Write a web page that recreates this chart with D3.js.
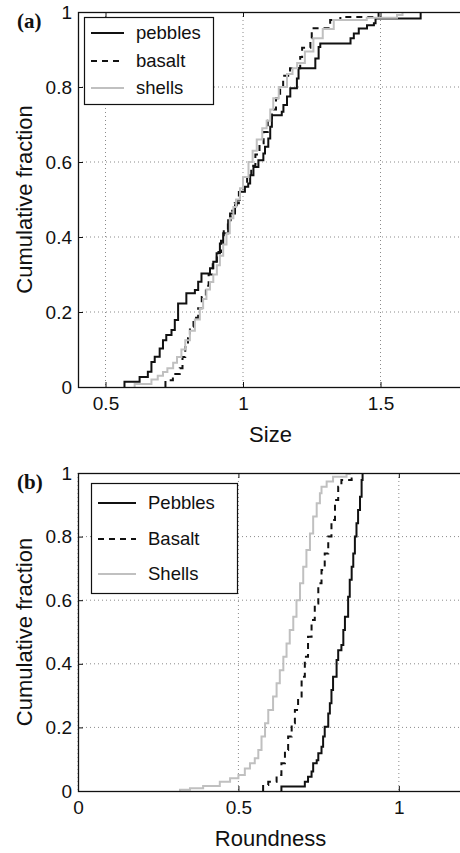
<!DOCTYPE html>
<html>
<head>
<meta charset="utf-8">
<script src="https://cdn.jsdelivr.net/npm/d3@7/dist/d3.min.js"></script>
<style>
  body { margin: 0; background: #fff; }
  svg { display: block; font-family: "Liberation Sans", Arial, sans-serif; }
  .grid line { stroke: #8a8a8a; stroke-width: 1; stroke-dasharray: 1,3; }
  .tick-label { font-size: 19px; fill: #111; }
  .axis-title { font-size: 22px; fill: #111; }
  .legend-text { font-size: 18.5px; fill: #111; }
  .panel-tag { font-family: "Liberation Serif", "Times New Roman", serif; font-weight: bold; font-size: 21px; fill: #111; }
</style>
</head>
<body>
<svg id="chart" width="460" height="853"></svg>
<script>
// (a) size distributions: step position and cumulative fraction after the step
const sizePebblesX = [0.569, 0.624, 0.654, 0.667, 0.679, 0.697, 0.709, 0.721, 0.740, 0.752, 0.764, 0.794, 0.825, 0.837, 0.849, 0.880, 0.892, 0.904, 0.916, 0.928, 0.946, 0.953, 0.971, 0.977, 0.989, 1.007, 1.019, 1.026, 1.038, 1.056, 1.074, 1.080, 1.092, 1.099, 1.105, 1.141, 1.147, 1.160, 1.172, 1.196, 1.202, 1.263, 1.275, 1.281, 1.391, 1.403, 1.421, 1.451, 1.476, 1.482, 1.646];
const sizePebblesF = [0.014, 0.027, 0.041, 0.067, 0.081, 0.103, 0.125, 0.139, 0.152, 0.179, 0.223, 0.250, 0.259, 0.281, 0.303, 0.317, 0.334, 0.357, 0.383, 0.410, 0.445, 0.463, 0.485, 0.499, 0.521, 0.534, 0.543, 0.565, 0.587, 0.605, 0.623, 0.641, 0.663, 0.694, 0.725, 0.734, 0.752, 0.775, 0.797, 0.823, 0.850, 0.876, 0.907, 0.916, 0.930, 0.943, 0.956, 0.965, 0.970, 0.983, 1.000];

const sizeBasaltX = [0.718, 0.745, 0.770, 0.780, 0.790, 0.800, 0.807, 0.820, 0.837, 0.850, 0.865, 0.875, 0.890, 0.905, 0.920, 0.930, 0.945, 0.955, 0.970, 0.985, 1.000, 1.015, 1.030, 1.045, 1.060, 1.075, 1.090, 1.105, 1.120, 1.135, 1.146, 1.171, 1.208, 1.215, 1.245, 1.250, 1.317, 1.354, 1.493];
const sizeBasaltF = [0.018, 0.035, 0.050, 0.080, 0.107, 0.130, 0.161, 0.185, 0.210, 0.240, 0.270, 0.300, 0.330, 0.360, 0.390, 0.420, 0.445, 0.470, 0.490, 0.520, 0.540, 0.560, 0.590, 0.620, 0.650, 0.680, 0.710, 0.740, 0.770, 0.800, 0.830, 0.850, 0.880, 0.905, 0.930, 0.957, 0.979, 0.987, 1.000];

const sizeShellsX = [0.606, 0.667, 0.690, 0.709, 0.725, 0.746, 0.760, 0.776, 0.790, 0.807, 0.825, 0.843, 0.855, 0.867, 0.880, 0.892, 0.905, 0.916, 0.928, 0.940, 0.952, 0.965, 0.975, 0.989, 1.000, 1.020, 1.035, 1.050, 1.070, 1.086, 1.099, 1.110, 1.130, 1.160, 1.180, 1.197, 1.225, 1.256, 1.290, 1.330, 1.450, 1.560, 1.580];
const sizeShellsF = [0.008, 0.020, 0.030, 0.040, 0.050, 0.065, 0.080, 0.100, 0.125, 0.150, 0.180, 0.210, 0.235, 0.260, 0.280, 0.300, 0.325, 0.350, 0.380, 0.410, 0.450, 0.480, 0.500, 0.530, 0.560, 0.600, 0.630, 0.660, 0.690, 0.710, 0.740, 0.770, 0.800, 0.835, 0.850, 0.864, 0.895, 0.930, 0.955, 0.979, 0.985, 0.992, 1.000];

// (b) roundness distributions
const roundPebblesX = [0.634, 0.707, 0.717, 0.728, 0.733, 0.744, 0.749, 0.759, 0.764, 0.769, 0.780, 0.785, 0.790, 0.795, 0.806, 0.811, 0.821, 0.827, 0.832, 0.842, 0.847, 0.853, 0.858, 0.863, 0.868, 0.873, 0.879, 0.884, 0.887];
const roundPebblesF = [0.014, 0.029, 0.045, 0.061, 0.087, 0.097, 0.119, 0.139, 0.171, 0.202, 0.244, 0.276, 0.318, 0.359, 0.412, 0.443, 0.459, 0.506, 0.548, 0.611, 0.664, 0.705, 0.747, 0.800, 0.842, 0.884, 0.925, 0.978, 1.000];

const roundBasaltX = [0.577, 0.593, 0.619, 0.634, 0.645, 0.655, 0.666, 0.676, 0.686, 0.697, 0.707, 0.717, 0.728, 0.738, 0.749, 0.759, 0.769, 0.780, 0.790, 0.801, 0.811, 0.821, 0.853, 0.856];
const roundBasaltF = [0.019, 0.029, 0.050, 0.087, 0.129, 0.171, 0.213, 0.255, 0.297, 0.359, 0.422, 0.485, 0.538, 0.590, 0.653, 0.695, 0.747, 0.800, 0.852, 0.915, 0.957, 0.978, 0.983, 1.000];

const roundShellsX = [0.318, 0.349, 0.390, 0.442, 0.474, 0.500, 0.520, 0.536, 0.551, 0.562, 0.572, 0.583, 0.593, 0.608, 0.619, 0.629, 0.640, 0.650, 0.660, 0.671, 0.681, 0.692, 0.702, 0.712, 0.723, 0.733, 0.744, 0.754, 0.759, 0.775, 0.795, 0.837, 0.847];
const roundShellsF = [0.004, 0.009, 0.016, 0.029, 0.040, 0.050, 0.071, 0.087, 0.103, 0.129, 0.171, 0.213, 0.255, 0.297, 0.339, 0.380, 0.422, 0.464, 0.506, 0.548, 0.600, 0.653, 0.705, 0.758, 0.810, 0.863, 0.905, 0.936, 0.957, 0.973, 0.988, 0.997, 1.000];

const fractionTicks = [0, 0.2, 0.4, 0.6, 0.8, 1];
const sizeTicks = [0.5, 1, 1.5];
const roundTicks = [0, 0.5, 1];
const sizeLegend = ['pebbles', 'basalt', 'shells'];
const roundLegend = ['Pebbles', 'Basalt', 'Shells'];

const seriesStyle = [
  { stroke: '#111', dash: null },
  { stroke: '#111', dash: '6,5' },
  { stroke: '#c0c0c0', dash: null }
];

const svg = d3.select('#chart');
const tickFormat = d => d3.format('')(d);

function drawPanel(opts) {
  const { top, bottom, left, right, xDomain, xTicks, xTitle, tag, series, legend, legendBox, id } = opts;
  const xScale = d3.scaleLinear().domain(xDomain).range([left, right]);
  const yScale = d3.scaleLinear().domain([0, 1]).range([bottom, top]);
  const g = svg.append('g');

  g.append('clipPath').attr('id', id)
    .append('rect')
    .attr('x', left).attr('y', top - 2)
    .attr('width', right - left).attr('height', bottom - top + 2);

  // dotted grid
  const grid = g.append('g').attr('class', 'grid');
  grid.selectAll('line.gx').data(xTicks).enter().append('line')
    .attr('x1', d => xScale(d)).attr('x2', d => xScale(d))
    .attr('y1', top).attr('y2', bottom);
  grid.selectAll('line.gy').data(fractionTicks.slice(1, -1)).enter().append('line')
    .attr('x1', left).attr('x2', right)
    .attr('y1', d => yScale(d)).attr('y2', d => yScale(d));

  // curves
  const line = d3.line()
    .x(d => xScale(d[0]))
    .y(d => yScale(d[1]))
    .curve(d3.curveStepAfter);

  const curves = g.append('g').attr('clip-path', `url(#${id})`);
  series.forEach((s, i) => {
    const pts = [[s.x[0], 0]].concat(s.x.map((v, j) => [v, s.f[j]]));
    curves.append('path')
      .attr('d', line(pts))
      .attr('fill', 'none')
      .attr('stroke', seriesStyle[i].stroke)
      .attr('stroke-width', 2)
      .attr('stroke-dasharray', seriesStyle[i].dash);
  });

  // axes: bottom / left with inward ticks, plus top mirror
  const xAxis = d3.axisBottom(xScale).tickValues(xTicks).tickSize(-5).tickPadding(10).tickFormat(tickFormat);
  const xAxisTop = d3.axisTop(xScale).tickValues(xTicks).tickSize(-5).tickFormat('');
  const yAxis = d3.axisLeft(yScale).tickValues(fractionTicks).tickSize(-5).tickPadding(6).tickFormat(tickFormat);

  const xg = g.append('g').attr('transform', `translate(0,${bottom})`).call(xAxis);
  const xtg = g.append('g').attr('transform', `translate(0,${top})`).call(xAxisTop);
  const yg = g.append('g').attr('transform', `translate(${left},0)`).call(yAxis);
  [xg, xtg, yg].forEach(a => {
    a.select('.domain').remove();
    a.selectAll('.tick line').attr('stroke', '#111').attr('stroke-width', 1);
    a.selectAll('text').attr('class', 'tick-label').attr('font-family', null).attr('font-size', null).attr('fill', null);
  });
  xg.selectAll('text').attr('dy', '0.71em');

  // frame
  g.append('rect')
    .attr('x', left + 0.5).attr('y', top + 0.5)
    .attr('width', right - left).attr('height', bottom - top)
    .attr('fill', 'none').attr('stroke', '#111').attr('stroke-width', 1.3);

  // titles
  g.append('text').attr('class', 'axis-title')
    .attr('x', (left + right) / 2).attr('y', bottom + 55)
    .attr('text-anchor', 'middle').text(xTitle);
  g.append('text').attr('class', 'axis-title')
    .attr('transform', `translate(32,${(top + bottom) / 2}) rotate(-90)`)
    .attr('text-anchor', 'middle').text('Cumulative fraction');
  g.append('text').attr('class', 'panel-tag')
    .attr('x', 17).attr('y', top + 16).text(tag);

  // legend
  const lg = g.append('g');
  lg.append('rect')
    .attr('x', legendBox.x + 0.5).attr('y', legendBox.y + 0.5)
    .attr('width', legendBox.w).attr('height', legendBox.h)
    .attr('fill', '#fff').attr('stroke', '#111').attr('stroke-width', 1.2);
  legend.forEach((name, i) => {
    const y = legendBox.rowY[i];
    lg.append('line')
      .attr('x1', legendBox.x + 7).attr('x2', legendBox.x + legendBox.lineW)
      .attr('y1', y).attr('y2', y)
      .attr('stroke', seriesStyle[i].stroke).attr('stroke-width', 2)
      .attr('stroke-dasharray', seriesStyle[i].dash);
    lg.append('text').attr('class', 'legend-text')
      .attr('x', legendBox.x + legendBox.textX).attr('y', y + 6)
      .text(name);
  });
}

drawPanel({
  id: 'clipA', top: 12, bottom: 387, left: 78, right: 463,
  xDomain: [0.4, 1.8], xTicks: sizeTicks, xTitle: 'Size', tag: '(a)',
  series: [
    { x: sizePebblesX, f: sizePebblesF },
    { x: sizeBasaltX, f: sizeBasaltF },
    { x: sizeShellsX, f: sizeShellsF }
  ],
  legend: sizeLegend,
  legendBox: { x: 84, y: 17, w: 129, h: 87, rowY: [33, 61, 88], lineW: 40, textX: 52 }
});

drawPanel({
  id: 'clipB', top: 473, bottom: 791, left: 78, right: 463,
  xDomain: [0, 1.2], xTicks: roundTicks, xTitle: 'Roundness', tag: '(b)',
  series: [
    { x: roundPebblesX, f: roundPebblesF },
    { x: roundBasaltX, f: roundBasaltF },
    { x: roundShellsX, f: roundShellsF }
  ],
  legend: roundLegend,
  legendBox: { x: 91, y: 483, w: 146, h: 110, rowY: [503, 539, 574], lineW: 45, textX: 57 }
});
</script>
</body>
</html>
